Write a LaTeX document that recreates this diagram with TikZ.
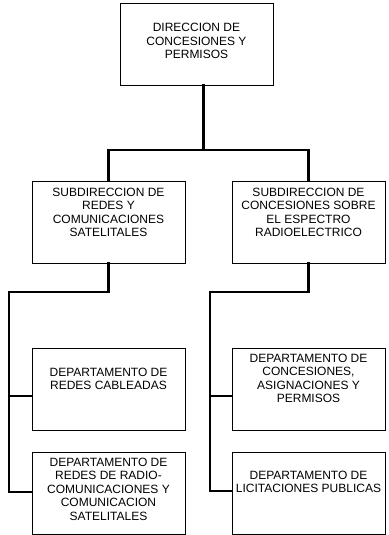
\documentclass[tikz,border=0pt]{standalone}
\usepackage{fontspec}
\setmainfont{Liberation Sans}
\usetikzlibrary{calc}
\newcommand{\bxt}[2]{\parbox[c][82pt][t]{153pt}{\fontsize{12}{13.5}\selectfont\centering\rule{0pt}{#1}#2\par}}
\tikzset{
  orgbox/.style={draw=black, line width=0.8pt, inner sep=0pt, outer sep=0pt, minimum width=153pt, minimum height=82pt, anchor=north west},
  conn/.style={draw=black, line width=2.6pt, line join=miter, line cap=rect}
}
\begin{document}
\begin{tikzpicture}[x=1pt,y=1pt]
\useasboundingbox[fill=white] (0,0) rectangle (388,-535);
% boxes
\node[orgbox] (top) at (120,-3) {\bxt{29pt}{DIRECCION DE\\CONCESIONES Y\\PERMISOS}};
\node[orgbox] (s1) at (32,-181) {\bxt{15pt}{SUBDIRECCION DE\\REDES Y\\COMUNICACIONES\\SATELITALES}};
\node[orgbox] (s2) at (232,-181) {\bxt{15pt}{SUBDIRECCION DE\\CONCESIONES SOBRE\\EL ESPECTRO\\RADIOELECTRICO}};
\node[orgbox] (d1) at (32,-348) {\bxt{28pt}{DEPARTAMENTO DE\\REDES CABLEADAS}};
\node[orgbox] (d2) at (32,-452) {\bxt{14pt}{DEPARTAMENTO DE\\REDES DE RADIO-\\COMUNICACIONES Y\\COMUNICACION\\SATELITALES}};
\node[orgbox] (d3) at (232,-348) {\bxt{14pt}{DEPARTAMENTO DE\\CONCESIONES,\\ASIGNACIONES Y\\PERMISOS}};
\node[orgbox] (d4) at (232,-452) {\bxt{27pt}{DEPARTAMENTO DE\\LICITACIONES PUBLICAS}};
% junctions
\coordinate (j0) at (203.5,-150);
\coordinate (jl) at (9,-292);
\coordinate (jr) at (210,-292);
\coordinate (b1) at (32,-396);
\coordinate (b2) at (32,-492);
\coordinate (b3) at (232,-396);
\coordinate (b4) at (232,-491);
% connectors
\draw[conn] (top.south -| j0) -- (j0);
\draw[conn] (s1.north) |- (j0) -| (s2.north);
\draw[conn] (s1.south) |- (jl) |- (b2);
\draw[conn] (jl |- b1) -- (b1);
\draw[conn] (s2.south) |- (jr) |- (b4);
\draw[conn] (jr |- b3) -- (b3);
\end{tikzpicture}
\end{document}
